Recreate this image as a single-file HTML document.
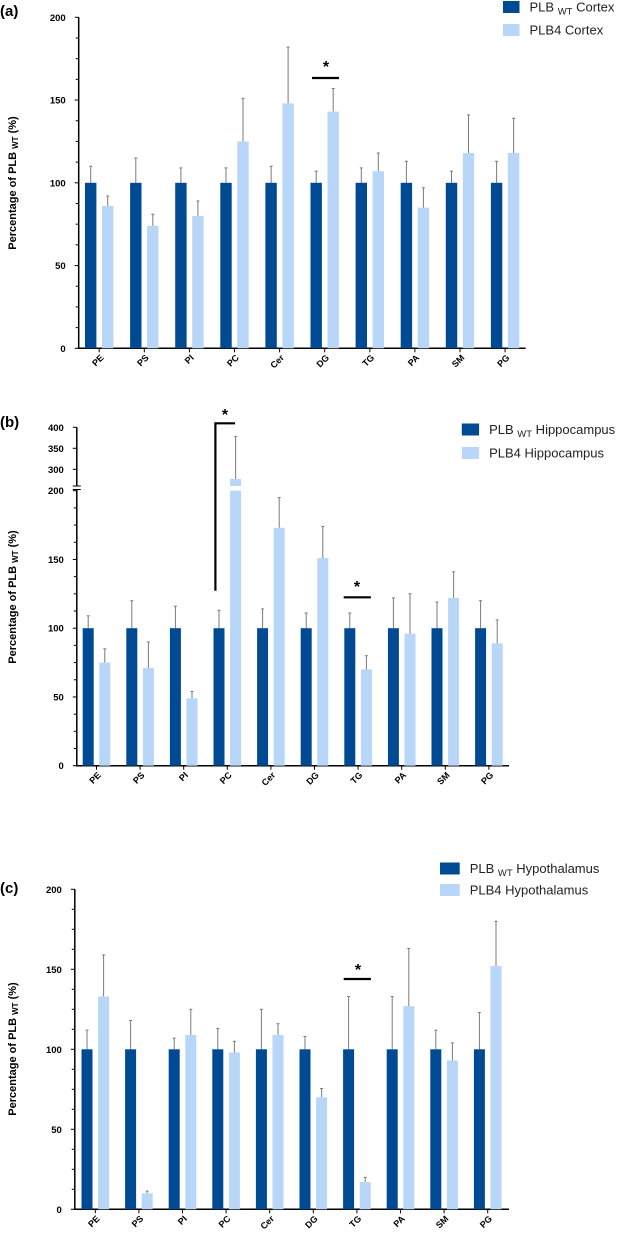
<!DOCTYPE html>
<html><head><meta charset="utf-8"><style>
body{margin:0;background:#fff;width:617px;height:1239px;overflow:hidden}
svg{display:block;font-family:"Liberation Sans",sans-serif}
</style></head><body>
<svg id="chart" width="617" height="1239" viewBox="0 0 617 1239" xmlns="http://www.w3.org/2000/svg"></svg>
<script>
const categories=["PE","PS","PI","PC","Cer","DG","TG","PA","SM","PG"];
const wtA=[100,100,100,100,100,100,100,100,100,100];
const wtErrA=[110,115,109,109,110,107,109,113,107,113];
const plbA=[86,74,80,125,148,143,107,85,118,118];
const plbErrA=[92,81,89,151,182,157,118,97,141,139];
const wtB=[100,100,100,100,100,100,100,100,100,100];
const wtErrB=[109,120,116,113,114,111,111,122,119,120];
const plbB=[75,71,49,277,173,151,70,96,122,89];
const plbErrB=[85,90,54,378,195,174,80,125,141,106];
const wtC=[100,100,100,100,100,100,100,100,100,100];
const wtErrC=[112,118,107,113,125,108,133,133,112,123];
const plbC=[133,10,109,98,109,70,17,127,93,152];
const plbErrC=[159,11.4,125,105,116,75.5,20,163,104,180];
const ticksMain=[0,50,100,150,200];
const ticksUpperB=[300,350,400];

const NS="http://www.w3.org/2000/svg";
const svg=document.getElementById('chart');
const DARK="#004a94",LIGHT="#b8d6f7",ERR="#7a7a7a";
function mk(tag,attrs,parent,text){const e=document.createElementNS(NS,tag);for(const k in attrs)e.setAttribute(k,attrs[k]);if(text!==undefined)e.textContent=text;(parent||svg).appendChild(e);return e;}

function panel(cfg){
  const g=mk('g',{});
  
  
  const y=v=>cfg.y0-(v)*cfg.k;
  const yU=v=>cfg.upper.y300-(v-300)*cfg.upper.k;
  const Y=v=>(cfg.upper&&v>200)?yU(v):y(v);
  const yTop=cfg.upper?cfg.upper.breakLo:y(200);
  const ya=mk('line',{x1:cfg.ax,x2:cfg.ax,y1:yTop,y2:cfg.y0,stroke:"#000","stroke-width":1.5},g);
  
  const xa=mk('line',{x1:cfg.ax-1,x2:cfg.axEnd,y1:cfg.y0,y2:cfg.y0,stroke:"#000","stroke-width":1.5},g);
  
  for(let v=0;v<=200;v+=12.5){const major=ticksMain.includes(v);mk('line',{x1:cfg.ax-(major?4:3),x2:cfg.ax,y1:y(v),y2:y(v),stroke:"#000","stroke-width":1},g);}
  ticksMain.forEach(v=>{const t=mk('text',{x:cfg.ax-13,y:y(v)+3.5,"text-anchor":"end","font-size":9.5,"font-weight":"bold"},g,v);});
  if(cfg.upper){
    mk('line',{x1:cfg.ax,x2:cfg.ax,y1:yU(400),y2:cfg.upper.breakHi,stroke:"#000","stroke-width":1.5},g);
    ticksUpperB.forEach(v=>{mk('line',{x1:cfg.ax-4,x2:cfg.ax,y1:yU(v),y2:yU(v),stroke:"#000"},g);
      const t=mk('text',{x:cfg.ax-13,y:yU(v)+3.5,"text-anchor":"end","font-size":9.5,"font-weight":"bold"},g,v);});
    mk('line',{x1:cfg.ax-4,x2:cfg.ax+4,y1:cfg.upper.breakHi,y2:cfg.upper.breakHi,stroke:"#000"},g);
    mk('line',{x1:cfg.ax-4,x2:cfg.ax+4,y1:cfg.upper.breakLo,y2:cfg.upper.breakLo,stroke:"#000"},g);
  }
  const bw=cfg.bw;
  categories.forEach((c,i)=>{
    const cx=cfg.x0+i*cfg.dx;
    mk('line',{x1:cx,x2:cx,y1:cfg.y0,y2:cfg.y0+4,stroke:"#000"},g);
    const lt=mk('text',{transform:`translate(${cx+5},${cfg.y0+10}) rotate(-45)`,"text-anchor":"end","font-size":9,"font-weight":"bold"},g,c);
    
    const series=[[cfg.wt[i],cfg.wtErr[i],DARK,cx-cfg.off-bw/2,'bar-wt-'+c],[cfg.plb[i],cfg.plbErr[i],LIGHT,cx+cfg.off-bw/2,'bar-plb4-'+c]];
    series.forEach(([v,e,col,x,nm])=>{
      const ex=x+bw/2;
      mk('line',{x1:ex,x2:ex,y1:Y(e),y2:Y(v),stroke:ERR,"stroke-width":1},g);
      mk('line',{x1:ex-1.5,x2:ex+1.5,y1:Y(e),y2:Y(e),stroke:ERR,"stroke-width":1},g);
      if(cfg.upper&&v>200){
        const r1=mk('rect',{x:x,y:y(200),width:bw,height:cfg.y0-y(200),fill:col},g);
        
        const r2=mk('rect',{x:x,y:yU(v),width:bw,height:cfg.upper.breakHi-yU(v),fill:col},g);
        
      }else{
        const r=mk('rect',{x:x,y:y(v),width:bw,height:cfg.y0-y(v),fill:col},g);
        
      }
    });
  });
  const yt=mk('text',{transform:`translate(${cfg.titleX},${cfg.titleY}) rotate(-90)`,"text-anchor":"middle","font-size":11,"font-weight":"bold"},g);
  
  mk('tspan',{},yt,'Percentage of PLB ');mk('tspan',{"font-size":8,dy:2},yt,'WT');mk('tspan',{dy:-2},yt,' (%)');
  const pl=mk('text',{x:0,y:cfg.labelY,"font-size":15,"font-weight":"bold"},g,cfg.label);
  
  const lg=mk('g',{},g);
  [[DARK,cfg.leg[0],cfg.legY],[LIGHT,cfg.leg[1],cfg.legY+cfg.legDy]].forEach(([col,txt,yy],j)=>{
    const e=mk('g',{},lg);
    mk('rect',{x:cfg.legX,y:yy,width:cfg.legW,height:12,fill:col},e);
    const t=mk('text',{x:cfg.legX+cfg.legW+10,y:yy+10.5,"font-size":13,fill:"#222"},e);
    if(j===0){mk('tspan',{},t,'PLB ');mk('tspan',{"font-size":9.5,dy:3},t,'WT');mk('tspan',{dy:-3},t,' '+txt);}
    else t.textContent='PLB4 '+txt;
  });
  cfg.sig.forEach(s=>{
    const sg=mk('g',{},g);
    if(s.bracket){mk('polyline',{points:`${s.x1},${s.yb} ${s.x1},${s.y} ${s.x2},${s.y}`,fill:"none",stroke:"#000","stroke-width":2.2},sg);}
    else mk('line',{x1:s.x1,x2:s.x2,y1:s.y,y2:s.y,stroke:"#000","stroke-width":2.2},sg);
    mk('text',{x:s.sx,y:s.sy,"text-anchor":"middle","font-size":16,"font-weight":"bold"},sg,'*');
  });
}

panel({name:'panel-a-cortex',label:'(a)',labelY:16,ax:78.7,axEnd:525.6,y0:348.3,k:(348.3-17.3)/200,x0:99.2,dx:45.1,bw:11.4,off:8.5,
  wt:wtA,wtErr:wtErrA,plb:plbA,plbErr:plbErrA,titleX:16,titleY:183,leg:['Cortex','Cortex'],legX:503,legY:1,legDy:23,legW:16.5,
  sig:[{x1:312,x2:339,y:78,sx:326,sy:72}]});
panel({name:'panel-b-hippocampus',label:'(b)',labelY:427,ax:76.8,axEnd:509,y0:765.7,k:(765.7-490.7)/200,x0:96.5,dx:43.6,bw:11,off:8.3,
  upper:{y300:469.3,k:0.42,breakHi:486,breakLo:489.5},
  wt:wtB,wtErr:wtErrB,plb:plbB,plbErr:plbErrB,titleX:16,titleY:597,leg:['Hippocampus','Hippocampus'],legX:461.8,legY:423.5,legDy:23.5,legW:17.3,
  sig:[{bracket:true,x1:215.4,x2:235,y:423.3,yb:590.7,sx:225,sy:420},{x1:343.7,x2:370.9,y:597.3,sx:357,sy:592}]});
panel({name:'panel-c-hypothalamus',label:'(c)',labelY:893,ax:74.8,axEnd:509,y0:1209.3,k:1.6,x0:95.3,dx:43.6,bw:11,off:8.3,
  wt:wtC,wtErr:wtErrC,plb:plbC,plbErr:plbErrC,titleX:16,titleY:1049,leg:['Hypothalamus','Hypothalamus'],legX:440,legY:862.5,legDy:21.5,legW:19.7,
  sig:[{x1:343.7,x2:370.9,y:979,sx:358,sy:975}]});
</script>
</body></html>
